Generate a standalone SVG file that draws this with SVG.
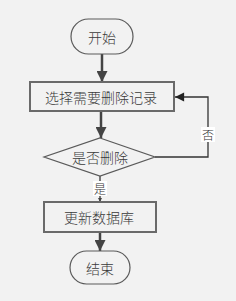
<svg xmlns="http://www.w3.org/2000/svg" width="236" height="301" viewBox="0 0 236 301">
<defs>
<style>
.shape{fill:#f2f2f2;stroke:#5a5a5a;stroke-width:1.2}
.box{fill:#f2f2f2;stroke:#6a6a6a;stroke-width:2}
.t{font-family:"Noto Sans CJK SC","Liberation Serif",serif;font-size:14px;font-weight:300;fill:#3a3a3a;text-anchor:middle;dominant-baseline:central}
.lbl{font-family:"Noto Sans CJK SC","Liberation Serif",serif;font-size:12px;font-weight:300;fill:#333;text-anchor:middle;dominant-baseline:central}
.flow{stroke:#444;stroke-width:2.5;fill:none}
.thin{stroke:#333;stroke-width:1.3;fill:none}
</style>
<marker id="ah" viewBox="0 0 10 10" refX="10" refY="5" markerWidth="4.4" markerHeight="4.4" orient="auto" markerUnits="strokeWidth"><path d="M0,0 L10,5 L0,10 z" fill="#444"/></marker>
<marker id="ah2" viewBox="0 0 10 10" refX="10" refY="5" markerWidth="8" markerHeight="7" orient="auto" markerUnits="strokeWidth"><path d="M0,0 L10,5 L0,10 z" fill="#222"/></marker>
<marker id="ah3" viewBox="0 0 10 10" refX="10" refY="5" markerWidth="4" markerHeight="4" orient="auto" markerUnits="userSpaceOnUse"><path d="M0,0 L10,5 L0,10 z" fill="#444"/></marker>
</defs>
<rect width="236" height="301" fill="#f2f2f2"/>
<g id="connectors">
<line class="flow" x1="102" y1="54" x2="102" y2="82" marker-end="url(#ah)"/>
<line class="flow" x1="101" y1="111" x2="101" y2="138" marker-end="url(#ah)"/>
<polyline class="thin" points="155,157 208,157 208,97 175,97" marker-end="url(#ah2)"/>
<rect x="201" y="127" width="14" height="15" fill="#fff"/>
<text class="lbl" x="208" y="134.5">否</text>
<line class="thin" x1="100" y1="176" x2="100" y2="202" stroke="#555" marker-end="url(#ah3)"/>
<rect x="93" y="181" width="14" height="15" fill="#fff"/>
<text class="lbl" x="100" y="188">是</text>
<line class="flow" x1="100" y1="232" x2="100" y2="251" marker-end="url(#ah)"/>
</g>
<g id="start">
<rect class="shape" x="71" y="19" width="62" height="35" rx="17.5"/>
<text class="t" x="102" y="36.5">开始</text>
</g>
<g id="select">
<rect class="box" x="30" y="82" width="144" height="29"/>
<text class="t" x="101" y="96.5">选择需要删除记录</text>
</g>
<g id="decide">
<polygon class="shape" points="100,138 155,157 100,176 44,157"/>
<text class="t" x="100" y="156.5">是否删除</text>
</g>
<g id="update">
<rect class="box" x="44" y="202" width="112" height="30"/>
<text class="t" x="99" y="217">更新数据库</text>
</g>
<g id="end">
<rect class="shape" x="70" y="251" width="60" height="33" rx="16.5"/>
<text class="t" x="100" y="267.5">结束</text>
</g>
</svg>
